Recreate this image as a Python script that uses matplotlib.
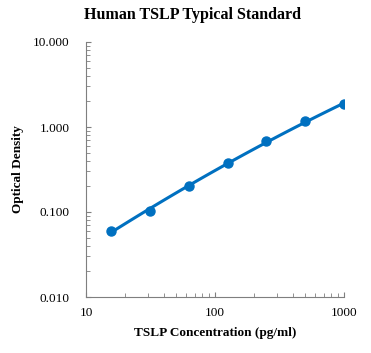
import numpy as np
import matplotlib.pyplot as plt
from matplotlib.ticker import FixedLocator, FixedFormatter, LogLocator, NullFormatter

plt.rcParams['font.family'] = ['Liberation Serif', 'DejaVu Serif']

conc = [15.6, 31.25, 62.5, 125, 250, 500, 1000]
od = [0.060, 0.103, 0.200, 0.375, 0.680, 1.170, 1.850]
title = 'Human TSLP Typical Standard'
xlab = 'TSLP Concentration (pg/ml)'
ylab = 'Optical Density'

blue = '#0070C0'
gray = '#7f7f7f'

fig = plt.figure(figsize=(3.71, 3.53), dpi=100)
ax = fig.add_axes([86/371, 56/353, 258/371, 255/353])

# trend line (quadratic fit in log-log space)
lx, ly = np.log10(conc), np.log10(od)
p = np.polyfit(lx, ly, 2)
xs = np.linspace(lx[0], lx[-1], 100)
ax.plot(10**xs, 10**np.polyval(p, xs), color=blue, lw=2.2)
ax.plot(conc, od, 'o', color=blue, ms=6.5)

ax.set_xscale('log')
ax.set_yscale('log')
ax.set_xlim(10, 1000)
ax.set_ylim(0.01, 10)

ax.yaxis.set_major_locator(FixedLocator([0.01, 0.1, 1, 10]))
ax.yaxis.set_major_formatter(FixedFormatter(['0.010', '0.100', '1.000', '10.000']))
ax.xaxis.set_major_locator(FixedLocator([10, 100, 1000]))
ax.xaxis.set_major_formatter(FixedFormatter(['10', '100', '1000']))
ax.xaxis.set_minor_locator(LogLocator(base=10, subs=np.arange(2, 10)))
ax.yaxis.set_minor_locator(LogLocator(base=10, subs=np.arange(2, 10)))
ax.xaxis.set_minor_formatter(NullFormatter())
ax.yaxis.set_minor_formatter(NullFormatter())

ax.tick_params(which='both', direction='in', color=gray, labelsize=9.5)
ax.tick_params(which='major', length=3.5)
ax.tick_params(which='minor', length=3)
ax.tick_params(axis='y', which='major', pad=12)
ax.tick_params(axis='x', which='major', pad=7)
for s in ['top', 'right']:
    ax.spines[s].set_visible(False)
for s in ['left', 'bottom']:
    ax.spines[s].set_color(gray)

fig.suptitle(title, x=192/371, y=1 - 15/353, va='center', fontsize=11.5, fontweight='bold')
ax.set_xlabel(xlab, fontsize=9.5, fontweight='bold', labelpad=6)
ax.set_ylabel(ylab, fontsize=9.5, fontweight='bold', labelpad=6)

fig.savefig('out.png', dpi=100)
